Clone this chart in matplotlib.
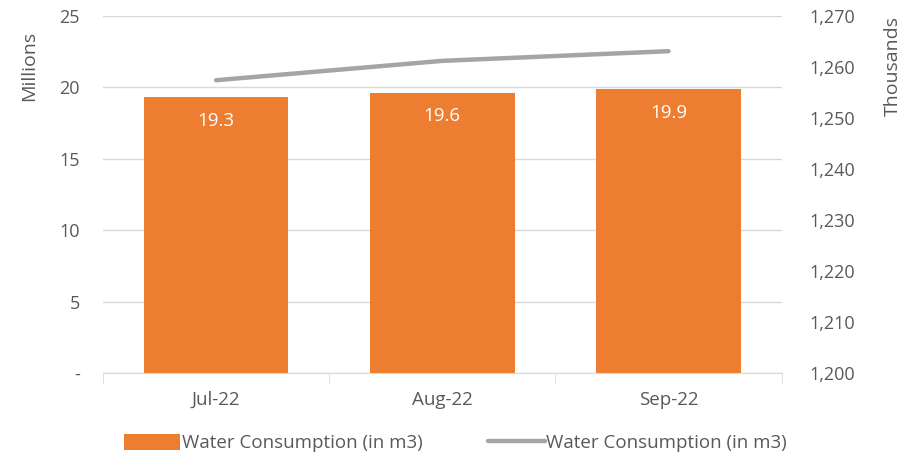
import matplotlib.pyplot as plt
import numpy as np
from matplotlib.ticker import FuncFormatter

# data
months = ["Jul-22", "Aug-22", "Sep-22"]
bar_vals = [19.33, 19.64, 19.86]          # millions m3
line_vals = [1257.4, 1261.2, 1263.1]       # thousands
bar_labels = ["19.3", "19.6", "19.9"]

ORANGE = "#ED7D31"
GREY = "#A5A5A5"
TXT = "#595959"

plt.rcParams['font.family'] = ['Open Sans', 'DejaVu Sans']

fig = plt.figure(figsize=(9.11, 4.57), dpi=100)
ax = fig.add_axes([0.113, 0.184, 0.745, 0.781])
ax2 = ax.twinx()

x = np.arange(len(months))
ax.bar(x, bar_vals, width=0.64, color=ORANGE, zorder=2, label="Water Consumption (in m3)")
for xi, v, lab in zip(x, bar_vals, bar_labels):
    ax.text(xi, v - 1.65, lab, ha="center", va="center", color="white", fontsize=13.5, zorder=3)

ax2.plot(x, line_vals, color=GREY, lw=3.2, solid_capstyle="round", label="Water Consumption (in m3)")

ax.set_xlim(-0.5, 2.5)
ax.set_ylim(0, 25)
ax.set_yticks(range(0, 26, 5))
ax.yaxis.set_major_formatter(FuncFormatter(lambda v, p: "-" if v == 0 else f"{v:.0f}"))
ax2.set_ylim(1200, 1270)
ax2.set_yticks(range(1200, 1271, 10))
ax2.yaxis.set_major_formatter(FuncFormatter(lambda v, p: f"{v:,.0f}"))

ax.grid(axis="y", color="#D9D9D9", lw=1, zorder=0)
ax.set_axisbelow(True)

for a in (ax, ax2):
    for s in ("top", "left", "right", "bottom"):
        a.spines[s].set_visible(False)
    a.tick_params(axis="y", length=0, labelsize=13, labelcolor=TXT)
ax.tick_params(axis="y", pad=16.5)
ax2.tick_params(axis="y", pad=20)

ax.spines["bottom"].set_visible(True)
ax.spines["bottom"].set_color("#D9D9D9")
ax.set_xticks(x)
ax.set_xticklabels(months)
ax.tick_params(axis="x", length=0, labelsize=13.5, labelcolor=TXT, pad=13)
ax.set_xticks([-0.5, 0.5, 1.5, 2.5], minor=True)
ax.tick_params(axis="x", which="minor", length=7, color="#D9D9D9")

ax.set_ylabel("Millions", fontsize=14, color=TXT)
ax.yaxis.set_label_coords(-0.095, 0.86)
ax2.set_ylabel("Thousands", fontsize=14, color=TXT)
ax2.yaxis.set_label_coords(1.15, 0.86)

h1, l1 = ax.get_legend_handles_labels()
h2, l2 = ax2.get_legend_handles_labels()
fig.legend(h1 + h2, l1 + l2, loc="center", bbox_to_anchor=(0.5, 0.03), ncol=2,
           frameon=False, fontsize=13.5, labelcolor=TXT, handlelength=3.0,
           handleheight=0.9, handletextpad=0.1, columnspacing=3.5)

fig.savefig("out.png", dpi=100)
